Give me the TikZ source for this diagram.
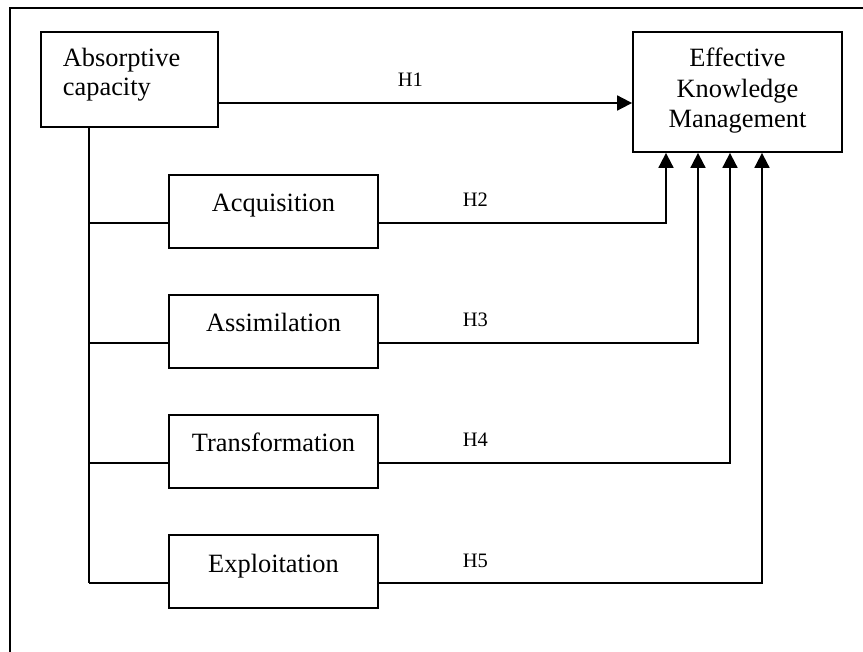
\documentclass[tikz,border=0pt]{standalone}
\usepackage{fontspec}
\setmainfont{Liberation Serif}
\usetikzlibrary{arrows.meta}
\begin{document}
\begin{tikzpicture}[x=1pt,y=-1pt,
  line width=1.8pt,
  box/.style={draw, line width=1.8pt, rectangle, inner sep=0pt, minimum width=209pt, minimum height=73pt},
  boxtext/.style={font=\fontsize{26.4}{30}\selectfont, anchor=base, inner sep=0pt},
  hyp/.style={font=\fontsize{20.5}{24}\selectfont, anchor=base west, inner sep=0pt},
  conn/.style={line width=1.8pt, -{Triangle[length=15pt,width=15pt]}},
  link/.style={line width=1.8pt}]
\useasboundingbox (0,0) rectangle (863,652);
\clip (0,0) rectangle (863,652);

% outer frame, running off the page at right and bottom
\draw[line width=1.8pt] (10,680) -- (10,8) -- (900,8);

% main constructs
\node[draw, line width=1.8pt, inner sep=0pt, minimum width=177pt, minimum height=95pt] (ac) at (129.5,79.5) {};
\node[font=\fontsize{26.4}{30}\selectfont, anchor=base west, inner sep=0pt] at (62,67) {Absorptive};
\node[font=\fontsize{26.4}{30}\selectfont, anchor=base west, inner sep=0pt] at (62,96) {capacity};

\node[draw, line width=1.8pt, inner sep=0pt, minimum width=209pt, minimum height=120pt] (ekm) at (737.5,92) {};
\node[boxtext] at (737.5,67) {Effective};
\node[boxtext] at (737.5,97.5) {Knowledge};
\node[boxtext] at (737.5,128) {Management};

% dimensions of absorptive capacity
\node[box] (acq) at (273.5,211.5) {};
\node[boxtext] at (273.5,212) {Acquisition};
\node[box] (asm) at (273.5,331.5) {};
\node[boxtext] at (273.5,332) {Assimilation};
\node[box] (trf) at (273.5,451.5) {};
\node[boxtext] at (273.5,452) {Transformation};
\node[box] (exp) at (273.5,571.5) {};
\node[boxtext] at (273.5,572) {Exploitation};

% branch points on the trunk and corners of the return paths
\coordinate (t0) at (89,127);
\coordinate (b2) at (89,223);
\coordinate (b3) at (89,343);
\coordinate (b4) at (89,463);
\coordinate (b5) at (89,583);
\coordinate (c2) at (666,223);
\coordinate (c3) at (698,343);
\coordinate (c4) at (730,463);
\coordinate (c5) at (762,583);

% trunk from absorptive capacity to its dimensions
\draw[link] (t0) -- (b5);
\draw[link] (b2) -- (acq.west |- b2);
\draw[link] (b3) -- (asm.west |- b3);
\draw[link] (b4) -- (trf.west |- b4);
\draw[link] (b5) -- (exp.west |- b5);

% hypotheses
\draw[conn] (ac.east |- 0,103) -- (ekm.west |- 0,103);
\draw[conn] (acq.east |- c2) -- (c2) -- (c2 |- ekm.south);
\draw[conn] (asm.east |- c3) -- (c3) -- (c3 |- ekm.south);
\draw[conn] (trf.east |- c4) -- (c4) -- (c4 |- ekm.south);
\draw[conn] (exp.east |- c5) -- (c5) -- (c5 |- ekm.south);

\node[hyp] (h1) at (397,87) {H1};
\node[hyp] (h2) at (462,207) {H2};
\node[hyp] (h3) at (462,327) {H3};
\node[hyp] (h4) at (462,447) {H4};
\node[hyp] (h5) at (462,567) {H5};
\end{tikzpicture}
\end{document}
